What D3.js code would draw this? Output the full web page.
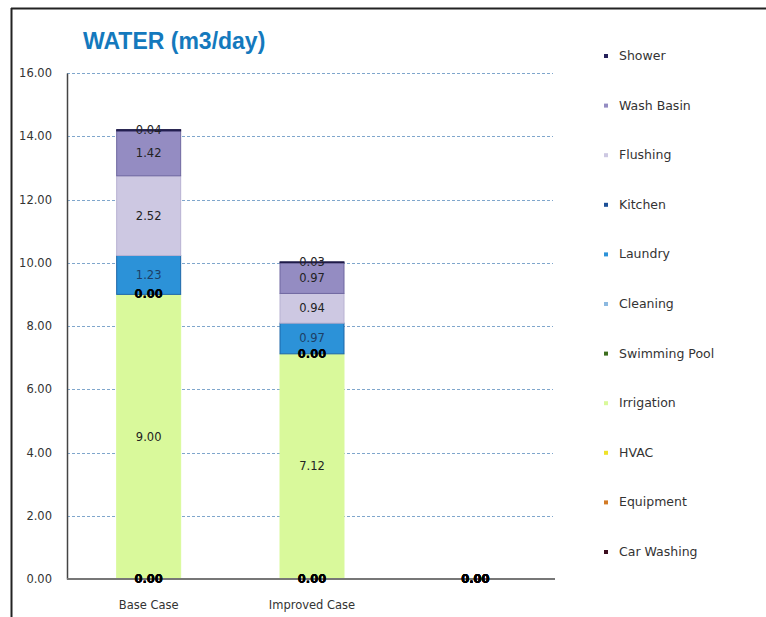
<!DOCTYPE html>
<html>
<head>
<meta charset="utf-8">
<script src="https://cdn.jsdelivr.net/npm/d3@7/dist/d3.min.js"></script>
<style>
  html, body { margin: 0; padding: 0; background: #fff; }
  svg { display: block; font-family: "DejaVu Sans", Verdana, sans-serif; }
</style>
</head>
<body>
<svg id="chart" width="766" height="617"></svg>
<script>
// Daily water use by end use (m3/day)
const categories = ["Base Case", "Improved Case", ""];
// Stack order: bottom to top
const seriesNames = ["Car Washing", "Equipment", "HVAC", "Irrigation", "Swimming Pool",
                     "Cleaning", "Laundry", "Kitchen", "Flushing", "Wash Basin", "Shower"];
const carWashing   = [0, 0, 0];
const equipment    = [0, 0, 0];
const hvac         = [0, 0, 0];
const irrigation   = [9.00, 7.12, 0];
const swimmingPool = [0, 0, 0];
const cleaning     = [0, 0, 0];
const laundry      = [1.23, 0.97, null];
const kitchen      = [null, null, null];
const flushing     = [2.52, 0.94, null];
const washBasin    = [1.42, 0.97, null];
const shower       = [0.04, 0.03, null];
const yTicks = [0, 2, 4, 6, 8, 10, 12, 14, 16];

const seriesValues = [carWashing, equipment, hvac, irrigation, swimmingPool,
                      cleaning, laundry, kitchen, flushing, washBasin, shower];
const fills = {
  "Shower": "#25215a", "Wash Basin": "#948cc2", "Flushing": "#cdc8e2", "Kitchen": "#1c4f96",
  "Laundry": "#2c92d8", "Cleaning": "#8cb9e0", "Swimming Pool": "#3c6e1e", "Irrigation": "#d9f99b",
  "HVAC": "#eee22a", "Equipment": "#d27a25", "Car Washing": "#3b0d1e"
};
const strokes = {
  "Shower": "#1e1a48", "Wash Basin": "#6f67a0", "Flushing": "#b8b2d2", "Laundry": "#1d66a8",
  "Irrigation": "#d9f99b"
};

const svg = d3.select("#chart");

// frame
svg.append("line").attr("x1", 11).attr("x2", 766).attr("y1", 8.5).attr("y2", 8.5)
  .attr("stroke", "#222").attr("stroke-width", 2);
svg.append("line").attr("x1", 11.5).attr("x2", 11.5).attr("y1", 8).attr("y2", 617)
  .attr("stroke", "#222").attr("stroke-width", 2);

// title
svg.append("text").attr("x", 83).attr("y", 49)
  .attr("font-size", 23).attr("font-weight", "bold").attr("fill", "#1479bd")
  .attr("font-family", "'Liberation Sans', Arial, sans-serif")
  .text("WATER (m3/day)");

const x = d3.scaleBand().domain(d3.range(categories.length)).range([67, 557]).paddingInner(0.6).paddingOuter(0.3);
const y = d3.scaleLinear().domain([0, 16]).range([579, 73]);

// gridlines
svg.append("g").selectAll("line").data(yTicks.filter(d => d > 0)).join("line")
  .attr("x1", 67).attr("x2", 553)
  .attr("y1", d => Math.round(y(d)) + 0.5).attr("y2", d => Math.round(y(d)) + 0.5)
  .attr("stroke", "#7fa6cc").attr("stroke-width", 1).attr("stroke-dasharray", "3,2");

// y axis
const yAxis = d3.axisLeft(y).tickValues(yTicks).tickFormat(d3.format(".2f")).tickSize(0).tickPadding(15);
const gy = svg.append("g").attr("transform", "translate(67,0)").call(yAxis);
gy.select(".domain").attr("stroke", "#444").attr("stroke-width", 1.5);
gy.selectAll("text").attr("font-size", 11.5).attr("fill", "#333")
  .attr("font-family", "'DejaVu Sans', Verdana, sans-serif");

// stacked data
const table = categories.map((c, i) => {
  const row = { idx: i };
  seriesNames.forEach((s, k) => { row[s] = seriesValues[k][i]; });
  return row;
});
const stack = d3.stack().keys(seriesNames).value((d, k) => d[k] == null ? 0 : d[k]);
const layers = stack(table);

const barW = 64;
const bw = x.bandwidth();
const barX = i => x(i) + bw / 2 - barW / 2;

layers.forEach(layer => {
  const name = layer.key;
  svg.append("g").selectAll("rect").data(layer.filter(d => d.data[name] != null && d.data[name] > 0)).join("rect")
    .attr("x", d => barX(d.data.idx))
    .attr("width", barW)
    .attr("y", d => y(d[1]))
    .attr("height", d => y(d[0]) - y(d[1]))
    .attr("fill", fills[name])
    .attr("stroke", strokes[name] || fills[name])
    .attr("stroke-width", 1);
});

// x axis
svg.append("line").attr("x1", 67).attr("x2", 555).attr("y1", 579).attr("y2", 579)
  .attr("stroke", "#777").attr("stroke-width", 2);
svg.append("g").selectAll("text").data(categories).join("text")
  .attr("x", (d, i) => x(i) + bw / 2).attr("y", 609)
  .attr("text-anchor", "middle").attr("font-size", 11.5).attr("fill", "#333")
  .text(d => d);

// value labels
const labelColors = { "Laundry": "#1d3f66" };
layers.forEach(layer => {
  const name = layer.key;
  svg.append("g").selectAll("text").data(layer.filter(d => d.data[name] != null)).join("text")
    .attr("x", d => x(d.data.idx) + bw / 2)
    .attr("y", d => (y(d[0]) + y(d[1])) / 2 + 4)
    .attr("text-anchor", "middle").attr("font-size", 11.5)
    .attr("fill", labelColors[name] || (d => d.data[name] === 0 ? "#000" : "#222"))
    .attr("font-weight", d => d.data[name] === 0 ? "bold" : "normal")
    .text(d => d3.format(".2f")(d.data[name]));
});

// legend
const legendNames = seriesNames.slice().reverse();
const lg = svg.append("g").selectAll("g").data(legendNames).join("g")
  .attr("transform", (d, i) => `translate(606,${56 + i * 49.6})`);
lg.append("rect").attr("x", -2).attr("y", -2).attr("width", 4).attr("height", 4).attr("fill", d => fills[d]);
lg.append("text").attr("x", 13).attr("y", 4).attr("font-size", 12.5).attr("fill", "#333").text(d => d);
</script>
</body>
</html>
